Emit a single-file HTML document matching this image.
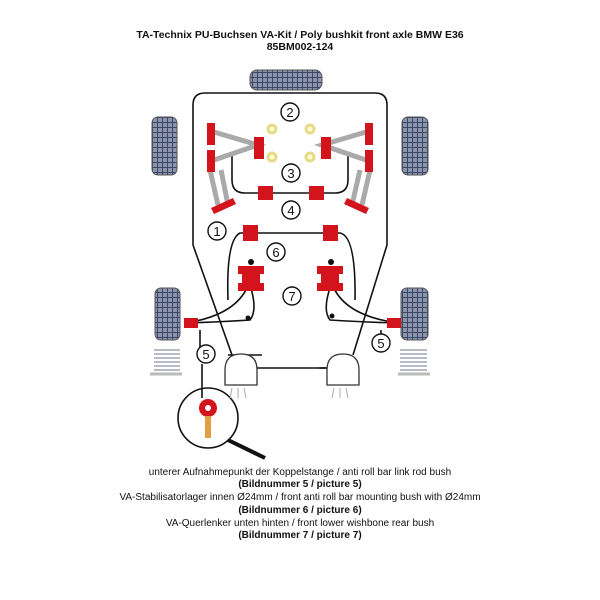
<!DOCTYPE html>
<html><head><style>
body{margin:0;background:#fff;width:600px;height:600px;overflow:hidden}
svg{display:block}
text{font-family:"Liberation Sans",Arial,sans-serif;fill:#111}
</style></head><body>
<svg width="600" height="600" viewBox="0 0 600 600">
<defs>
<pattern id="tr" width="5" height="5" patternUnits="userSpaceOnUse"><rect width="5" height="5" fill="#8a94ad"/><path d="M0 2.5H5M2.5 0V5" stroke="#3c4766" stroke-width="1"/></pattern>
</defs>
<text x="300" y="38" font-size="10.5" font-weight="bold" text-anchor="middle">TA-Technix PU-Buchsen VA-Kit / Poly bushkit front axle BMW E36</text>
<text x="300" y="50" font-size="10.5" font-weight="bold" text-anchor="middle">85BM002-124</text>

<!-- tires -->
<rect x="250" y="70" width="72" height="20" rx="7" fill="url(#tr)" stroke="#555"/>
<rect x="152" y="117" width="25" height="58" rx="6" fill="url(#tr)" stroke="#555"/>
<rect x="402" y="117" width="26" height="58" rx="6" fill="url(#tr)" stroke="#555"/>
<rect x="155" y="288" width="25" height="52" rx="6" fill="url(#tr)" stroke="#555"/>
<rect x="401" y="288" width="27" height="52" rx="6" fill="url(#tr)" stroke="#555"/>
<!-- springs -->
<g stroke="#8a92aa" stroke-width="1.3">
<path d="M154 350H180M154 354H180M154 358H180M154 362H180M154 366H180M154 370H180"/>
<path d="M400 350H427M400 354H427M400 358H427M400 362H427M400 366H427M400 370H427"/>
</g>
<path d="M150 374H182M398 374H430" stroke="#bbb" stroke-width="3"/>

<g fill="none" stroke="#111" stroke-width="1.6">
<!-- body outline -->
<path d="M193 245V105Q193 93 205 93H375Q387 93 387 105V245L353 355"/>
<path d="M193 245L232 355"/>
<!-- anti-roll bar 4 -->
<path d="M232 155V180Q232 193 245 193H335Q348 193 348 180V155"/>
<!-- bar 6 -->
<path d="M228 300Q226 240 240 233H340Q356 236 355 300"/>
<!-- wishbones -->
<path d="M250 280Q240 315 185 323M250 285Q258 310 250 320Q220 322 185 323"/>
<path d="M331 280Q340 315 398 323M331 285Q322 310 330 320Q360 322 398 323"/>
<path d="M228 355H262M319 368H332"/>
<path d="M256 368H330"/>
<!-- links -->
<path d="M200 330V354M202 364V398M381 334V330"/>
<!-- magnifier -->
<circle cx="208" cy="418" r="30"/>
</g>
<path d="M228 440L265 458" stroke="#111" stroke-width="4"/>
<!-- struts -->
<g stroke="#aaa" stroke-width="5" fill="none">
<path d="M210 170L218 205M221 170L228 205M370 170L362 205M360 170L352 205"/>
<path d="M214 132L258 145L214 160M366 132L322 145L366 160"/>
</g>
<!-- domes -->
<g fill="#fff" stroke="#333" stroke-width="1.3">
<path d="M225 385V370Q225 354 241 354Q257 354 257 370V385Z"/>
<path d="M327 385V370Q327 354 343 354Q359 354 359 370V385Z"/>
</g>
<path d="M232 388L230 398M238 388V398M244 388L246 398M334 388L332 398M340 388V398M346 388L348 398" stroke="#aaa"/>
<!-- yellow rings -->
<g fill="#fffbd0" stroke="#e5dc8a" stroke-width="3">
<circle cx="272" cy="129" r="4"/><circle cx="310" cy="129" r="4"/>
<circle cx="272" cy="157" r="4"/><circle cx="310" cy="157" r="4"/>
</g>
<!-- red bushes -->
<g fill="#d4141c">
<rect x="207" y="123" width="8" height="22"/><rect x="207" y="150" width="8" height="22"/>
<rect x="254" y="137" width="10" height="22"/><rect x="321" y="137" width="10" height="22"/>
<rect x="365" y="123" width="8" height="22"/><rect x="365" y="150" width="8" height="22"/>
<rect x="258" y="186" width="15" height="14"/><rect x="309" y="186" width="15" height="14"/>
<rect x="243" y="225" width="15" height="16"/><rect x="323" y="225" width="15" height="16"/>
<path d="M238 266h26v8h-4v9h4v8h-26v-8h4v-9h-4z"/>
<path d="M317 266h26v8h-4v9h4v8h-26v-8h4v-9h-4z"/>
<path d="M211 208l22-10 3 6-22 10z"/><path d="M369 208l-22-10-3 6 22 10z"/>
<rect x="184" y="318" width="14" height="10"/><rect x="387" y="318" width="14" height="10"/>
<circle cx="208" cy="408" r="9"/>
</g>
<circle cx="208" cy="408" r="3" fill="#fff"/>
<rect x="205" y="416" width="6" height="22" fill="#e0a040"/>
<circle cx="251" cy="262" r="3" fill="#111"/><circle cx="331" cy="262" r="3" fill="#111"/>
<circle cx="248" cy="318" r="2.5" fill="#111"/><circle cx="332" cy="316" r="2.5" fill="#111"/>
<!-- number circles -->
<g fill="#fff" stroke="#111" stroke-width="1.4">
<circle cx="290" cy="112" r="9"/><circle cx="291" cy="173" r="9"/><circle cx="291" cy="210" r="9"/>
<circle cx="217" cy="231" r="9"/><circle cx="276" cy="252" r="9"/><circle cx="292" cy="296" r="9"/>
<circle cx="206" cy="354" r="9"/><circle cx="381" cy="343" r="9"/>
</g>
<g font-size="13" text-anchor="middle">
<text x="290" y="117">2</text><text x="291" y="178">3</text><text x="291" y="215">4</text>
<text x="217" y="236">1</text><text x="276" y="257">6</text><text x="292" y="301">7</text>
<text x="206" y="359">5</text><text x="381" y="348">5</text>
</g>

<g font-size="10" text-anchor="middle">
<text x="300" y="475">unterer Aufnahmepunkt der Koppelstange / anti roll bar link rod bush</text>
<text x="300" y="487" font-weight="bold">(Bildnummer 5 / picture 5)</text>
<text x="300" y="500">VA-Stabilisatorlager innen Ø24mm / front anti roll bar mounting bush with Ø24mm</text>
<text x="300" y="513" font-weight="bold">(Bildnummer 6 / picture 6)</text>
<text x="300" y="526">VA-Querlenker unten hinten / front lower wishbone rear bush</text>
<text x="300" y="538" font-weight="bold">(Bildnummer 7 / picture 7)</text>
</g>
</svg>
</body></html>
